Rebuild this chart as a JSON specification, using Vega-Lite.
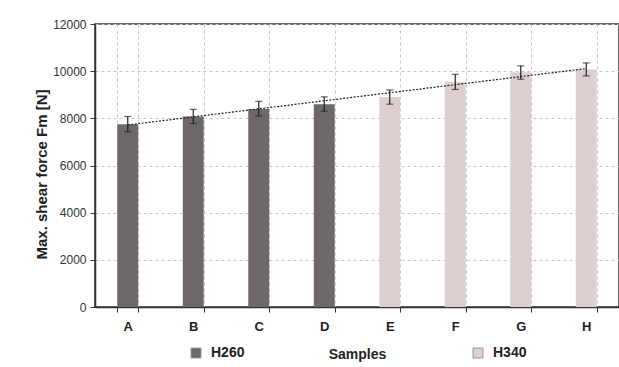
{
  "$schema": "https://vega.github.io/schema/vega-lite/v6.json",
  "width": 524,
  "height": 283,
  "autosize": {"type": "none"},
  "padding": {"left": 95, "top": 24, "right": 0, "bottom": 60},
  "background": "white",
  "config": {
    "font": "Liberation Sans",
    "view": {"stroke": "#333333", "strokeWidth": 1.5}
  },
  "data": {
    "values": [
      {"sample": "A", "group": "H260", "force": 7750, "low": 7430, "high": 8080, "trend": 7720},
      {"sample": "B", "group": "H260", "force": 8080, "low": 7780, "high": 8380, "trend": 8060},
      {"sample": "C", "group": "H260", "force": 8400, "low": 8100, "high": 8720, "trend": 8400},
      {"sample": "D", "group": "H260", "force": 8600, "low": 8300, "high": 8910, "trend": 8740},
      {"sample": "E", "group": "H340", "force": 8900, "low": 8600, "high": 9200, "trend": 9090},
      {"sample": "F", "group": "H340", "force": 9550, "low": 9225, "high": 9870, "trend": 9430},
      {"sample": "G", "group": "H340", "force": 9950, "low": 9660, "high": 10225, "trend": 9770},
      {"sample": "H", "group": "H340", "force": 10070, "low": 9800, "high": 10350, "trend": 10110}
    ]
  },
  "encoding": {
    "x": {
      "field": "sample",
      "type": "nominal",
      "scale": {"paddingInner": 0.68, "paddingOuter": 0.34},
      "axis": {
        "title": "Samples",
        "titleFontSize": 14,
        "titleFontWeight": "bold",
        "titleColor": "#222222",
        "titlePadding": 14,
        "labelAngle": 0,
        "labelFontSize": 13,
        "labelFontWeight": "bold",
        "labelColor": "#222222",
        "labelPadding": 8,
        "tickBand": "extent",
        "tickSize": 5,
        "tickColor": "#333333",
        "domainColor": "#333333",
        "domainWidth": 1.5,
        "grid": true,
        "gridDash": [3, 3],
        "gridColor": "#c8c8c8"
      }
    }
  },
  "layer": [
    {
      "mark": {"type": "bar"},
      "encoding": {
        "y": {
          "field": "force",
          "type": "quantitative",
          "title": "Max. shear force Fm [N]",
          "scale": {"domain": [0, 12000]},
          "axis": {
            "titleFontSize": 15,
            "titleFontWeight": "bold",
            "titleColor": "#222222",
            "titlePadding": 3,
            "titleY": 150,
            "format": "d",
            "values": [0, 2000, 4000, 6000, 8000, 10000, 12000],
            "labelFontSize": 12,
            "labelColor": "#333333",
            "labelPadding": 4,
            "tickSize": 5,
            "tickColor": "#333333",
            "domainColor": "#333333",
            "domainWidth": 1.5,
            "grid": true,
            "gridDash": [3, 3],
            "gridColor": "#c8c8c8"
          }
        },
        "color": {
          "field": "group",
          "type": "nominal",
          "scale": {"domain": ["H260", "H340"], "range": ["#6e6868", "#ddcfcf"]},
          "legend": {
            "title": null,
            "orient": "none",
            "legendX": 94,
            "legendY": 322,
            "direction": "horizontal",
            "columns": 2,
            "columnPadding": 226,
            "symbolType": "square",
            "symbolSize": 100,
            "symbolStrokeColor": "#999999",
            "symbolStrokeWidth": 1,
            "labelFontSize": 14,
            "labelFontWeight": "bold",
            "labelColor": "#222222",
            "labelOffset": 8
          }
        }
      }
    },
    {
      "mark": {"type": "errorbar", "ticks": {"size": 7}, "color": "#222222", "thickness": 1.2},
      "encoding": {
        "y": {"field": "low", "type": "quantitative", "title": "Max. shear force Fm [N]"},
        "y2": {"field": "high"}
      }
    },
    {
      "transform": [{"filter": "datum.sample === 'A' || datum.sample === 'H'"}],
      "mark": {"type": "line", "color": "#222222", "strokeWidth": 1.2, "strokeDash": [2, 1.5]},
      "encoding": {
        "y": {"field": "trend", "type": "quantitative", "title": "Max. shear force Fm [N]"}
      }
    }
  ]
}
